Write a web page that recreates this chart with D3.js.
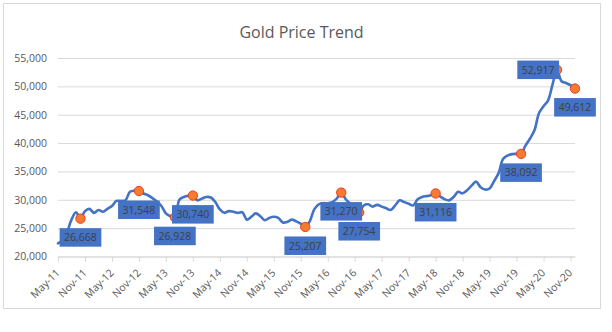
<!DOCTYPE html>
<html><head><meta charset="utf-8">
<script src="https://cdn.jsdelivr.net/npm/d3@7"></script>
<style>
body{margin:0;background:#fff}
svg{display:block}
text{font-family:"Open Sans",sans-serif}
</style>
</head><body>
<svg id="chart" width="612" height="332"></svg>
<script>
const months = [
 "May-11","Jun-11","Jul-11","Aug-11","Sep-11","Oct-11","Nov-11","Dec-11",
 "Jan-12","Feb-12","Mar-12","Apr-12","May-12","Jun-12","Jul-12","Aug-12","Sep-12","Oct-12","Nov-12","Dec-12",
 "Jan-13","Feb-13","Mar-13","Apr-13","May-13","Jun-13","Jul-13","Aug-13","Sep-13","Oct-13","Nov-13","Dec-13",
 "Jan-14","Feb-14","Mar-14","Apr-14","May-14","Jun-14","Jul-14","Aug-14","Sep-14","Oct-14","Nov-14","Dec-14",
 "Jan-15","Feb-15","Mar-15","Apr-15","May-15","Jun-15","Jul-15","Aug-15","Sep-15","Oct-15","Nov-15","Dec-15",
 "Jan-16","Feb-16","Mar-16","Apr-16","May-16","Jun-16","Jul-16","Aug-16","Sep-16","Oct-16","Nov-16","Dec-16",
 "Jan-17","Feb-17","Mar-17","Apr-17","May-17","Jun-17","Jul-17","Aug-17","Sep-17","Oct-17","Nov-17","Dec-17",
 "Jan-18","Feb-18","Mar-18","Apr-18","May-18","Jun-18","Jul-18","Aug-18","Sep-18","Oct-18","Nov-18","Dec-18",
 "Jan-19","Feb-19","Mar-19","Apr-19","May-19","Jun-19","Jul-19","Aug-19","Sep-19","Oct-19","Nov-19","Dec-19",
 "Jan-20","Feb-20","Mar-20","Apr-20","May-20","Jun-20","Jul-20","Aug-20","Sep-20","Oct-20","Nov-20","Dec-20"
];
const prices = [
 22300,22900,24300,26500,27800,26668,28000,28400,
 27700,28200,27900,28400,28900,29800,29800,29900,31400,31600,31548,31100,
 30800,30300,29700,28900,27600,27100,26928,30000,30500,30700,30740,29900,
 30200,30500,30400,29600,28300,27700,28000,27900,27700,27800,26500,27000,
 27600,27100,26400,26800,27000,26800,26000,26100,26500,26200,25800,25207,
 26200,28300,29200,29400,29400,29600,30200,31270,30100,29300,28500,27754,
 29000,29200,28800,29100,28800,28500,28200,29000,29900,29600,29300,29000,
 30100,30500,30650,30800,31116,30600,30100,29900,30500,31400,31150,31700,
 32500,33200,32200,31800,32000,33300,34700,37200,37800,38050,38100,38092,
 39600,40800,42300,45300,46500,47500,50300,52917,50900,50600,50200,49612
];
const tickLabels = ["May-11","Nov-11","May-12","Nov-12","May-13","Nov-13","May-14","Nov-14","May-15","Nov-15",
 "May-16","Nov-16","May-17","Nov-17","May-18","Nov-18","May-19","Nov-19","May-20","Nov-20"];
const yTicks = [20000,25000,30000,35000,40000,45000,50000,55000];
const highlightMonths = ["Oct-11","Nov-12","Jul-13","Nov-13","Dec-15","Aug-16","Dec-16","May-18","Dec-19","Aug-20","Dec-20"];
const leftLabelMonths = ["Aug-20"];
const title = "Gold Price Trend";

const svg = d3.select("#chart");
const L = 58, R = 575, T = 58, B = 256.5;
const x = d3.scalePoint().domain(months).range([L, R]);
const y = d3.scaleLinear().domain([20000, 55000]).range([B, T]);
const fmt = d3.format(",");

svg.append("rect").attr("x",3.5).attr("y",3.5).attr("width",597).attr("height",305)
  .attr("fill","#fff").attr("stroke","#D9D9D9");

svg.append("text").attr("x",301.5).attr("y",38).attr("text-anchor","middle")
  .attr("font-size",16).attr("fill","#595959").text(title);

// y axis with gridlines
const ya = svg.append("g").attr("transform",`translate(${L},0)`)
  .call(d3.axisLeft(y).tickValues(yTicks).tickSize(-(R-L)).tickPadding(11).tickFormat(fmt));
ya.select(".domain").remove();
ya.selectAll("line").attr("stroke","#D9D9D9");
ya.selectAll("text").attr("fill","#595959").attr("font-size",10.5).style("font-family","Open Sans");

// x axis
const xa = svg.append("g").attr("transform",`translate(0,${B})`)
  .call(d3.axisBottom(x).tickValues(tickLabels).tickSize(5).tickSizeOuter(0));
xa.select(".domain").attr("stroke","#D9D9D9");
xa.selectAll("line").attr("stroke","#D9D9D9");
xa.selectAll("text").attr("fill","#595959").attr("font-size",10.5).style("font-family","Open Sans")
  .attr("text-anchor","end").attr("x",0).attr("y",0).attr("dy",0)
  .attr("transform","translate(2,17) rotate(-45)");

// line
const data = months.map((m,i)=>({m, v: prices[i]}));
svg.append("path").datum(data)
  .attr("fill","none").attr("stroke","#4472C4").attr("stroke-width",2.6)
  .attr("stroke-linejoin","round").attr("stroke-linecap","round")
  .attr("d", d3.line().x(d=>x(d.m)).y(d=>y(d.v)).curve(d3.curveCatmullRom.alpha(0.5)));

const hl = data.filter(d=>highlightMonths.includes(d.m));
svg.append("g").selectAll("circle").data(hl).join("circle")
  .attr("cx",d=>x(d.m)).attr("cy",d=>y(d.v)).attr("r",4.7)
  .attr("fill","#F47B30").attr("stroke","#E8341C").attr("stroke-width",0.9);

const BW = 41.7, BH = 18.5;
const lg = svg.append("g").selectAll("g").data(hl).join("g")
  .attr("transform",d=>`translate(${x(d.m)},${y(d.v)})`);
lg.append("rect")
  .attr("x",d=>leftLabelMonths.includes(d.m) ? -BW+2 : -BW/2)
  .attr("y",d=>leftLabelMonths.includes(d.m) ? -BH/2 : 9.5)
  .attr("width",BW).attr("height",BH).attr("fill","#4472C4");
lg.append("text")
  .attr("x",d=>leftLabelMonths.includes(d.m) ? -BW/2+2 : 0)
  .attr("y",d=>leftLabelMonths.includes(d.m) ? 3.8 : 9.5+BH/2+3.8)
  .attr("text-anchor","middle").attr("font-size",10.5).attr("fill","#404040")
  .text(d=>fmt(d.v));
</script>
</body></html>
